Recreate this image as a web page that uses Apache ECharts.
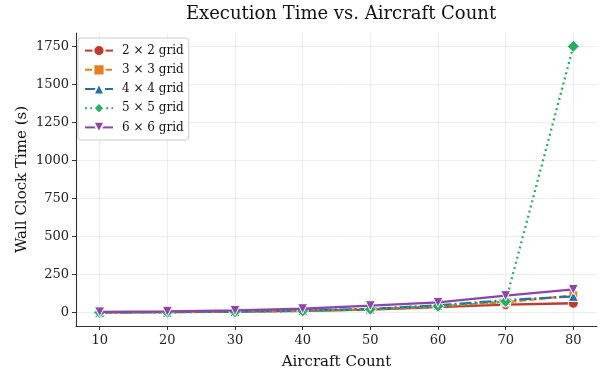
<!DOCTYPE html>
<html>
<head>
<meta charset="utf-8">
<script src="https://cdn.jsdelivr.net/npm/echarts@6/dist/echarts.min.js"></script>
<style>
  html, body { margin: 0; padding: 0; background: #ffffff; }
  #chart { width: 600px; height: 375px; }
</style>
</head>
<body>
<div id="chart"></div>
<script>
// Aircraft counts on the x axis
const aircraftCounts = [10, 20, 30, 40, 50, 60, 70, 80];

// Wall clock time (s) per grid size
const grid2x2 = [2, 4, 7, 12, 20, 36, 53, 62];
const grid3x3 = [2, 4, 7, 12, 22, 42, 68, 114];
const grid4x4 = [2, 4, 8, 14, 25, 48, 82, 107];
const grid5x5 = [1, 3, 6, 11, 23, 42, 74, 1752];
const grid6x6 = [5, 9, 15, 26, 46, 68, 112, 153];

const seriesNames = ['2 × 2 grid', '3 × 3 grid', '4 × 4 grid', '5 × 5 grid', '6 × 6 grid'];

// Tick labels
const xTickValues = [10, 20, 30, 40, 50, 60, 70, 80];
const yTickValues = [0, 250, 500, 750, 1000, 1250, 1500, 1750];

const FONT = 'DejaVu Serif';

function pairs(values) {
  return aircraftCounts.map((x, i) => [x, values[i]]);
}

const styles = [
  { color: '#c0392b', symbol: 'circle', size: 10, rotate: 0, type: 'solid' },
  { color: '#e67e22', symbol: 'rect', size: 9, rotate: 0, type: [7, 3] },
  { color: '#2471a3', symbol: 'triangle', size: 10, rotate: 0, type: [12, 3, 2, 3] },
  { color: '#27ae60', symbol: 'diamond', size: 12, rotate: 0, type: [2, 3.3] },
  { color: '#8e44ad', symbol: 'triangle', size: 10, rotate: 180, type: 'solid' }
];

const dataSets = [grid2x2, grid3x3, grid4x4, grid5x5, grid6x6];

const series = dataSets.map((vals, i) => ({
  name: seriesNames[i],
  type: 'line',
  data: pairs(vals),
  symbol: styles[i].symbol,
  symbolSize: styles[i].size,
  symbolRotate: styles[i].rotate,
  showAllSymbol: true,
  lineStyle: { color: styles[i].color, width: 2.3, type: styles[i].type },
  itemStyle: { color: styles[i].color, borderColor: '#ffffff', borderWidth: 1 },
  emphasis: { disabled: true },
  animation: false,
  z: 2 + i
}));

const chart = echarts.init(document.getElementById('chart'), null, { renderer: 'canvas' });

chart.setOption({
  animation: false,
  backgroundColor: '#ffffff',
  textStyle: { fontFamily: FONT },
  title: {
    text: 'Execution Time vs. Aircraft Count',
    left: 336,
    textAlign: 'center',
    top: 0,
    textStyle: { fontFamily: FONT, fontSize: 18, fontWeight: 'normal', color: '#111111' }
  },
  grid: { left: 76, right: 3, top: 33, bottom: 49, containLabel: false, outerBoundsMode: 'none' },
  legend: {
    orient: 'vertical',
    left: 78,
    top: 38,
    padding: [6, 5, 6, 6],
    itemWidth: 28,
    itemHeight: 14,
    itemGap: 6,
    backgroundColor: '#ffffff',
    borderColor: '#cccccc',
    borderWidth: 1,
    borderRadius: 3,
    textStyle: { fontFamily: FONT, fontSize: 12, color: '#111111', padding: [0, 0, 0, 4] },
    data: seriesNames
  },
  xAxis: {
    type: 'value',
    min: 6.5,
    max: 83.5,
    name: 'Aircraft Count',
    nameLocation: 'middle',
    nameGap: 29,
    nameMoveOverlap: false,
    nameTextStyle: { fontFamily: FONT, fontSize: 15, color: '#111111' },
    axisLine: { show: true, onZero: false, lineStyle: { color: '#333333', width: 1.1 } },
    axisTick: { show: true, length: 4, lineStyle: { color: '#333333' }, customValues: xTickValues },
    axisLabel: { fontFamily: FONT, fontSize: 13, color: '#222222', margin: 8, customValues: xTickValues },
    splitLine: { show: true, lineStyle: { color: '#ebebeb', width: 0.9 } }
  },
  yAxis: {
    type: 'value',
    min: -87.6,
    max: 1839.6,
    name: 'Wall Clock Time (s)',
    nameLocation: 'middle',
    nameGap: 46,
    nameMoveOverlap: false,
    nameTextStyle: { fontFamily: FONT, fontSize: 15, color: '#111111' },
    axisLine: { show: true, onZero: false, lineStyle: { color: '#333333', width: 1.1 } },
    axisTick: { show: true, length: 4, lineStyle: { color: '#333333' }, customValues: yTickValues },
    axisLabel: {
      fontFamily: FONT, fontSize: 13, color: '#222222', margin: 7,
      customValues: yTickValues,
      formatter: (v) => String(v)
    },
    splitLine: { show: true, lineStyle: { color: '#ebebeb', width: 0.9 } }
  },
  series: series
});
</script>
</body>
</html>
